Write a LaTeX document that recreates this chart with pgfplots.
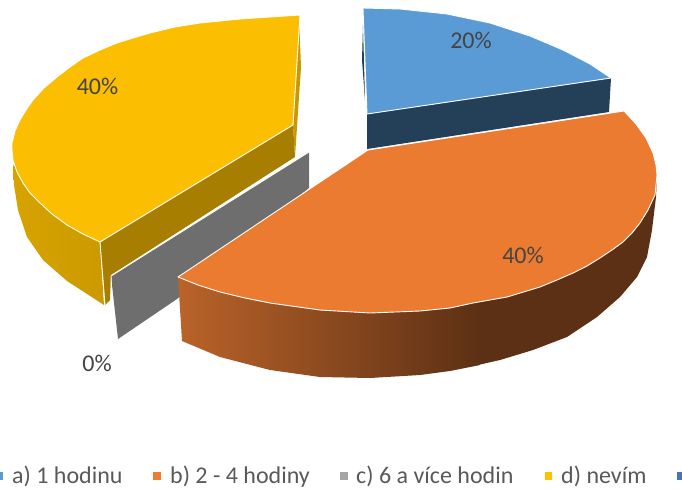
\documentclass[border=0pt]{standalone}
\usepackage{fontspec}
\setmainfont{Carlito}
\usepackage{pgfplots}
\pgfplotsset{compat=1.18}
\definecolor{txt}{HTML}{595959}
\definecolor{lbl}{HTML}{444444}
\definecolor{bd}{HTML}{243F58}
\definecolor{bl}{HTML}{5B9BD5}
\definecolor{ysl}{HTML}{C89A00}
\definecolor{yd}{HTML}{A87E00}
\definecolor{yl}{HTML}{D6A300}
\definecolor{yr}{HTML}{CC9A00}
\definecolor{yt}{HTML}{FBBE00}
\definecolor{gd}{HTML}{6E6E6E}
\definecolor{ol}{HTML}{BA6329}
\definecolor{or}{HTML}{5C3014}
\definecolor{ot}{HTML}{EA7B31}
\definecolor{k1}{HTML}{5B9BD5}
\definecolor{k2}{HTML}{ED7D31}
\definecolor{k3}{HTML}{A5A5A5}
\definecolor{k4}{HTML}{FFC000}
\definecolor{k5}{HTML}{4472C4}
\begin{document}
\begin{tikzpicture}
\path[use as bounding box] (0,0) rectangle (682pt,488pt);
\begin{axis}[at={(0,0)},anchor=south west,width=682pt,height=488pt,scale only axis,hide axis,
 xmin=0,xmax=682,ymin=0,ymax=488,y dir=reverse,clip=true,
 every axis plot/.append style={no markers,line join=round}]
% blue slice
\addplot[fill=bd,draw=none] coordinates {(363,25)(362,60)(365,100)} -- cycle;
\addplot[fill=bd,draw=none] coordinates {(367,114)(611,78)(609,112)(367,149)} -- cycle;
\addplot[fill=bl,draw=white,line width=0.9pt] coordinates {(363,8)(400,9)(447,14)(490,23)(530,36)(563,50)(590,64)(611,78)(367,114)} -- cycle;
% yellow slice
\addplot[fill=ysl,draw=none] coordinates {(299,16)(301,67)(295,157)(293,125)} -- cycle;
\addplot[fill=yd,draw=none] coordinates {(100,242)(293,125)(295,157)(111,275)(110,300)(105,305)} -- cycle;
\addplot[left color=yl,right color=yr,draw=none] coordinates {(13,165)(14,185)(18,210)(27,237)(43,260)(67,281)(104,305)(100,242)} -- cycle;
\addplot[fill=yt,draw=white,line width=0.9pt] coordinates {(100,242)(83,234)(67,225)(52,214)(40,203)(30,193)(23,183)(17,172)(13,160)(12,150)(12,143)(15,131)(20,120)(26,110)(33,100)(44,88)(57,77)(70,67)(83,58)(100,50)(117,43)(133,38)(150,33)(175,27)(200,23)(240,19)(300,15)(293,125)} -- cycle;
\addplot[white,line width=0.9pt] coordinates {(100,242)(105,305)};
% grey slice
\addplot[fill=gd,draw=none] coordinates {(111,276)(309,152)(309,188)(177,299)(118,339)} -- cycle;
\addplot[white,line width=0.9pt] coordinates {(111,276)(309,152)};
\addplot[white,line width=0.9pt] coordinates {(111,276)(112,300)};
% orange slice
\addplot[fill=or,draw=none] coordinates {(657,175)(656,197)(652,230)(647,257)(637,277)(620,297)(597,317)(567,337)(533,350)(500,360)(478,365)(478,300)} -- cycle;
\addplot[left color=ol,right color=or,draw=none] coordinates {(178,277)(182,341)(220,357)(270,370)(320,377)(370,378)(420,375)(450,371)(480,365)(480,300)} -- cycle;
\addplot[fill=ot,draw=white,line width=0.9pt] coordinates {(368,150)(624,111)(636,124)(646,138)(653,153)(656,165)(657,175)(655,195)(648,210)(640,223)(632,233)(623,242)(612,250)(600,258)(587,266)(573,273)(557,280)(540,287)(507,297)(473,303)(450,308)(420,311)(370,313)(320,310)(270,303)(245,298)(220,292)(198,285)(178,277)} -- cycle;
% legend keys
\addplot[fill=k1,draw=none] coordinates {(-4,472)(3,472)(3,480)(-4,480)} -- cycle;
\addplot[fill=k2,draw=none] coordinates {(153,472)(161,472)(161,480)(153,480)} -- cycle;
\addplot[fill=k3,draw=none] coordinates {(340,472)(348,472)(348,480)(340,480)} -- cycle;
\addplot[fill=k4,draw=none] coordinates {(545,472)(552,472)(552,480)(545,480)} -- cycle;
\addplot[fill=k5,draw=none] coordinates {(677,472)(684,472)(684,480)(677,480)} -- cycle;
\tikzset{lab/.style={text=lbl,inner sep=0pt,font=\fontsize{24}{26}\selectfont},
 leg/.style={text=txt,inner sep=0pt,font=\fontsize{24}{26}\selectfont,anchor=base west}}
\node[lab] at (axis cs:471,40) {20\%};
\node[lab] at (axis cs:97.5,86) {40\%};
\node[lab] at (axis cs:523,255) {40\%};
\node[lab] at (axis cs:97,363) {0\%};
\node[leg] at (axis cs:12,483) {a) 1 hodinu};
\node[leg] at (axis cs:170,483) {b) 2 - 4 hodiny};
\node[leg] at (axis cs:356,483) {c) 6 a více hodin};
\node[leg] at (axis cs:561,483) {d) nevím};
\end{axis}
\end{tikzpicture}
\end{document}
